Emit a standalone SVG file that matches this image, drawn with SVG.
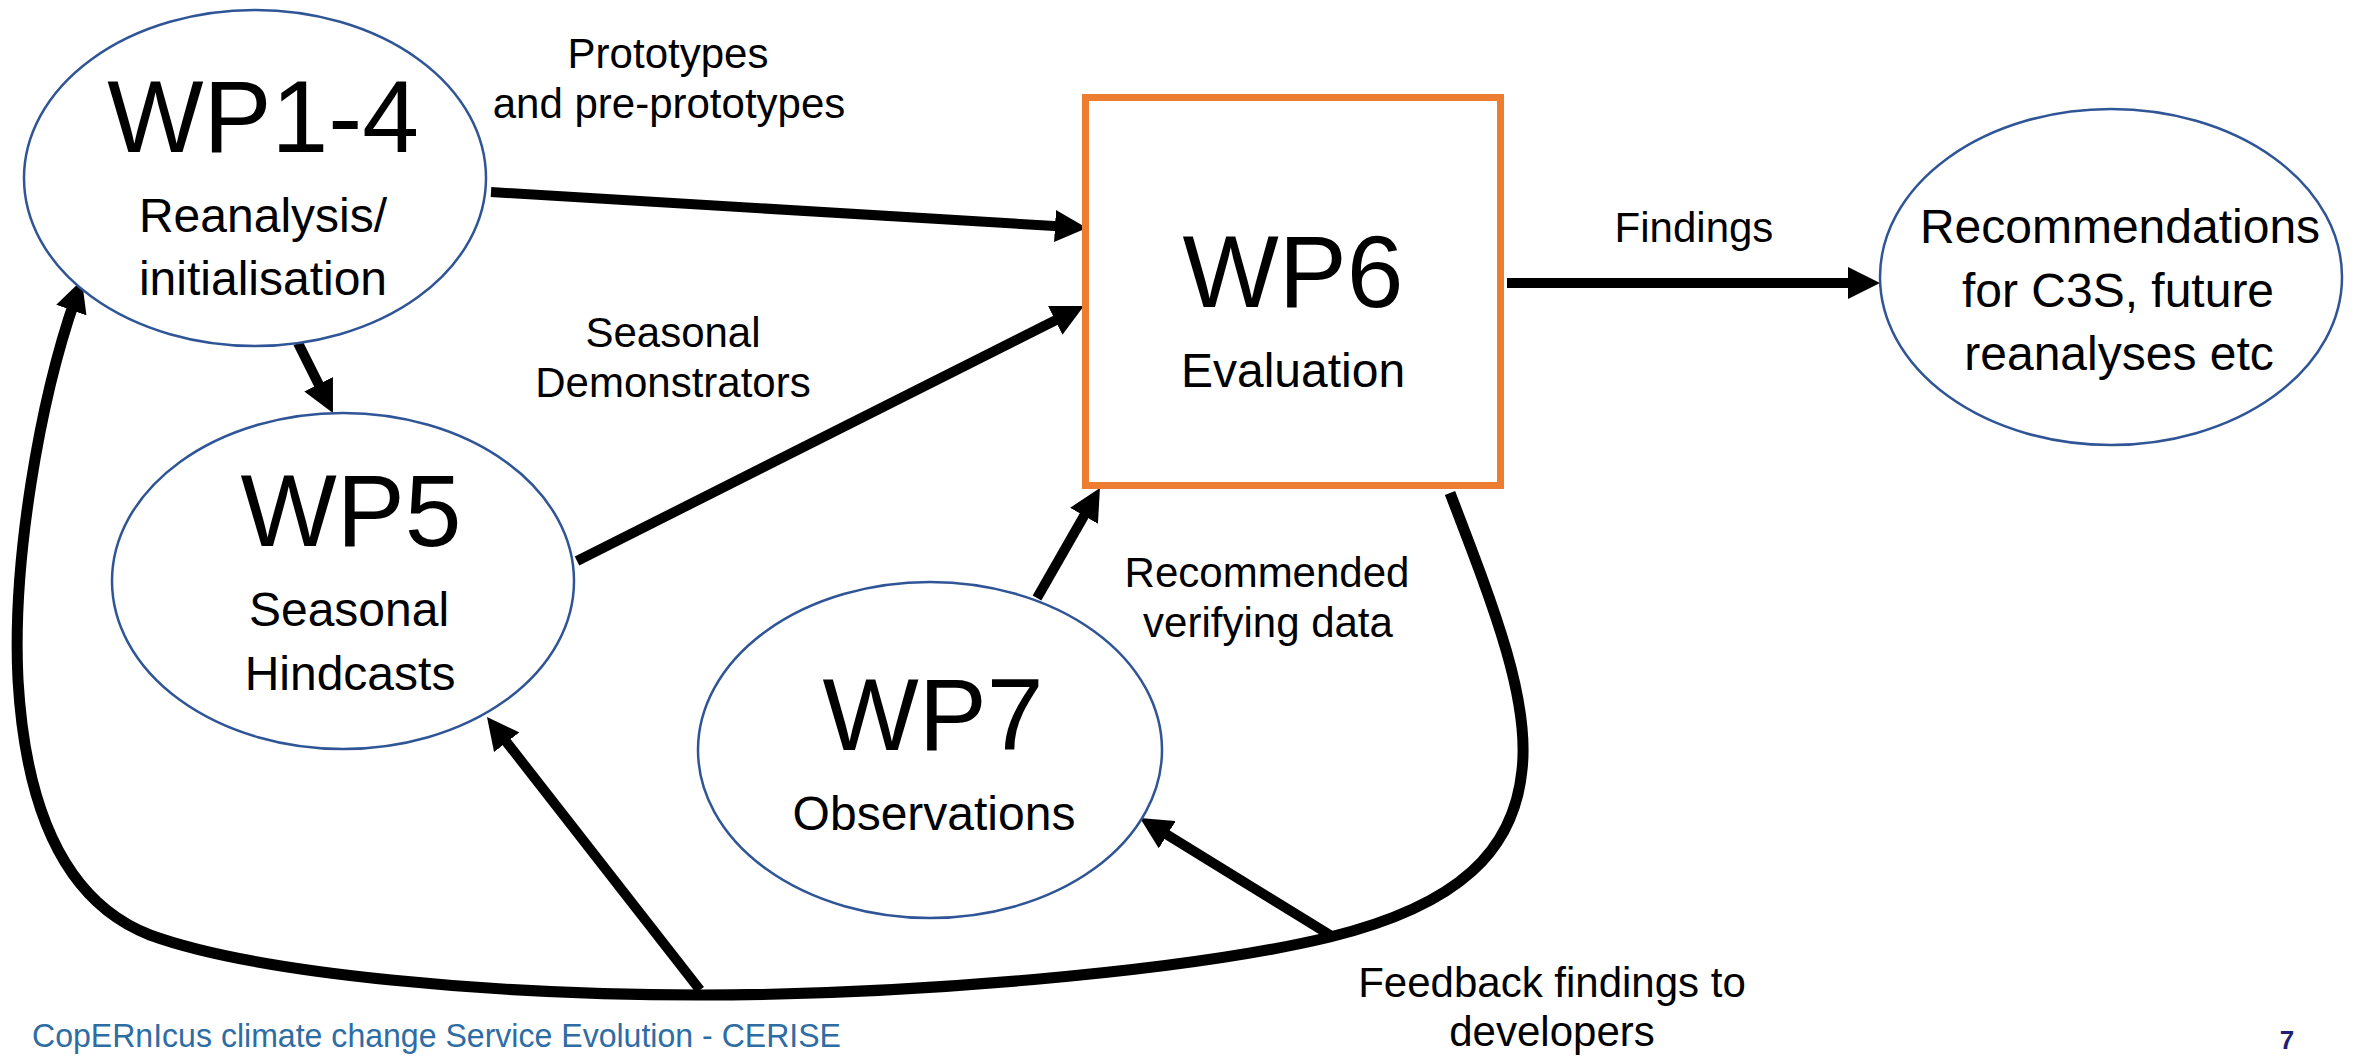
<svg xmlns="http://www.w3.org/2000/svg" width="2364" height="1056" viewBox="0 0 2364 1056">
  <style>
    .node { fill: #ffffff; stroke: #2F5597; stroke-width: 2.5; }
    .box { fill: #ffffff; stroke: #ED7D31; stroke-width: 7; }
    .title { font-family: "Liberation Sans", Arial, sans-serif; font-size: 102px; fill: #000; text-anchor: middle; }
    .sub { font-family: "Liberation Sans", Arial, sans-serif; font-size: 48px; fill: #000; text-anchor: middle; }
    .lbl { font-family: "Liberation Sans", Arial, sans-serif; font-size: 42px; fill: #000; text-anchor: middle; }
    .conn { fill: none; stroke: #000; stroke-width: 10; marker-end: url(#ah); }
    .loop { fill: none; stroke: #000; stroke-width: 11; stroke-linecap: butt; }
    .footer { font-family: "Liberation Sans", Arial, sans-serif; font-size: 34px; fill: #2E6DA4; }
    .pagenum { font-family: "Liberation Sans", Arial, sans-serif; font-size: 26px; font-weight: bold; fill: #1F1F73; text-anchor: middle; }
  </style>
  <defs>
    <!-- triangular head; tip sits 20px past the end of the path -->
    <marker id="ah" viewBox="0 0 32 32" refX="12" refY="16" markerWidth="32" markerHeight="32" markerUnits="userSpaceOnUse" orient="auto">
      <path d="M0,0 L32,16 L0,32 Z" fill="#000"/>
    </marker>
  </defs>

  <rect width="2364" height="1056" fill="#ffffff"/>

  <!-- connectors -->
  <g id="connectors">
    <path class="conn" d="M491,192 L1067,226.8"/>
    <path class="conn" d="M577,561 L1066,315"/>
    <path class="conn" d="M298,343 L324,395"/>
    <path class="conn" d="M1507,283 L1860,283"/>
    <path class="conn" d="M1037,598 L1090,505.4"/>
    <!-- feedback loop from WP6 back round to WP1-4 -->
    <path class="loop" marker-end="url(#ah)" d="M1450,493 C1495,610 1530,700 1522,770 C1514,850 1460,905 1330,937 C1180,973 900,995 700,995 C500,995 260,975 150,935 C60,900 25,800 18,680 C12,560 40,400 75.3,298.8"/>
    <path class="conn" d="M1330,935 L1157,828.5"/>
    <path class="conn" d="M700,990 L499.3,732.8"/>
  </g>

  <!-- nodes -->
  <g id="wp1-4">
    <ellipse class="node" cx="255" cy="178" rx="231" ry="168"/>
    <text class="title" x="263" y="152">WP1-4</text>
    <text class="sub" x="263" y="232">Reanalysis/</text>
    <text class="sub" x="263" y="295">initialisation</text>
  </g>

  <g id="wp5">
    <ellipse class="node" cx="343" cy="581" rx="231" ry="168"/>
    <text class="title" x="351" y="546">WP5</text>
    <text class="sub" x="349" y="626">Seasonal</text>
    <text class="sub" x="350" y="690">Hindcasts</text>
  </g>

  <g id="wp6">
    <rect class="box" x="1085.5" y="97.5" width="415" height="388"/>
    <text class="title" x="1293" y="307">WP6</text>
    <text class="sub" x="1293" y="387">Evaluation</text>
  </g>

  <g id="wp7">
    <ellipse class="node" cx="930" cy="750" rx="232" ry="168"/>
    <text class="title" x="933" y="750">WP7</text>
    <text class="sub" x="934" y="830">Observations</text>
  </g>

  <g id="recommendations">
    <ellipse class="node" cx="2111" cy="277" rx="231" ry="168"/>
    <text class="sub" x="2120" y="243">Recommendations</text>
    <text class="sub" x="2118" y="307">for C3S, future</text>
    <text class="sub" x="2119" y="370">reanalyses etc</text>
  </g>

  <!-- connector labels -->
  <g id="labels">
    <text class="lbl" x="668" y="68">Prototypes</text>
    <text class="lbl" x="669" y="118">and pre-prototypes</text>
    <text class="lbl" x="673" y="347">Seasonal</text>
    <text class="lbl" x="673" y="397">Demonstrators</text>
    <text class="lbl" x="1694" y="242">Findings</text>
    <text class="lbl" x="1267" y="587">Recommended</text>
    <text class="lbl" x="1268" y="637">verifying data</text>
    <text class="lbl" x="1552" y="997">Feedback findings to</text>
    <text class="lbl" x="1552" y="1046">developers</text>
  </g>

  <!-- slide footer -->
  <text class="footer" x="32" y="1047" textLength="809" lengthAdjust="spacingAndGlyphs">CopERnIcus climate change Service Evolution - CERISE</text>
  <text class="pagenum" x="2287" y="1049">7</text>
</svg>
